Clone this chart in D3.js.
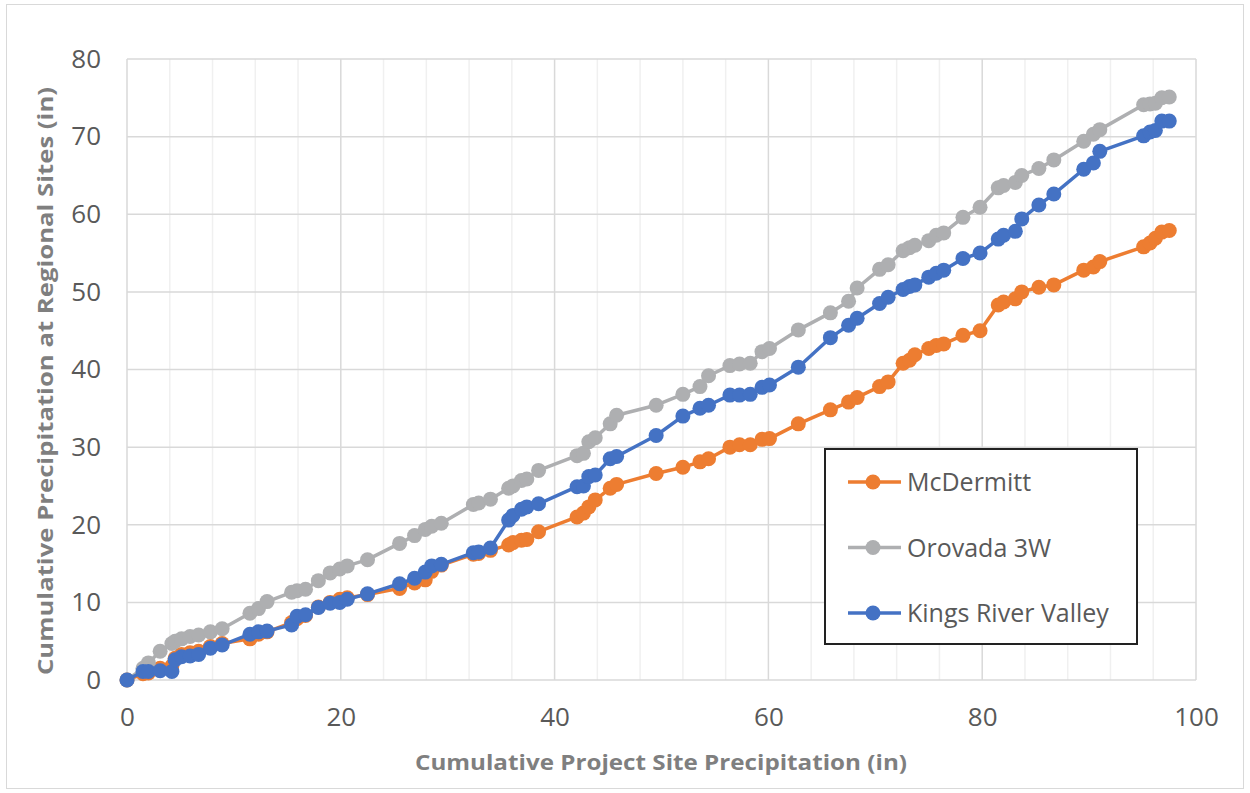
<!DOCTYPE html>
<html>
<head>
<meta charset="utf-8">
<title>Cumulative precipitation</title>
<script src="https://cdnjs.cloudflare.com/ajax/libs/d3/7.8.5/d3.min.js"></script>
<style>
body{
margin:0;
background:#fff
}
svg{
display:block
}
text{
font-family:"Open Sans",sans-serif
}
</style>
</head>
<body>
<svg width="1250" height="793"></svg>

<script>

// cumulative project site precipitation (in), shared by all series
var siteX = [0, 1.5, 2.0, 3.1, 4.2, 4.5, 5.1, 5.9, 6.7, 7.8,
	8.9, 11.5, 12.3, 13.1, 15.4, 15.9, 16.7, 17.9, 19.0, 19.9,
	20.6, 22.5, 25.5, 26.9, 27.9, 28.5, 29.4, 32.4, 32.9, 34.0,
	35.7, 36.1, 36.9, 37.4, 38.5, 42.1, 42.7, 43.2, 43.8, 45.2,
	45.8, 49.5, 52.0, 53.6, 54.4, 56.4, 57.3, 58.3, 59.4, 60.1,
	62.8, 65.8, 67.5, 68.3, 70.4, 71.2, 72.6, 73.2, 73.7, 75.0,
	75.7, 76.4, 78.2, 79.8, 81.5, 82.0, 83.1, 83.7, 85.3, 86.7,
	89.5, 90.4, 91.0, 95.1, 95.7, 96.2, 96.8, 97.5]

var mcdermitt = [0, 0.8, 0.9, 1.5, 1.8, 2.8, 3.3, 3.5, 3.7, 4.3,
	4.7, 5.3, 5.9, 6.2, 7.4, 7.9, 8.3, 9.4, 10.0, 10.4,
	10.6, 11.0, 11.8, 12.5, 12.9, 14.0, 14.8, 16.2, 16.3, 16.7,
	17.4, 17.7, 18.0, 18.1, 19.1, 21.0, 21.5, 22.3, 23.2, 24.7,
	25.2, 26.6, 27.4, 28.1, 28.5, 30.0, 30.3, 30.3, 31.0, 31.1,
	33.0, 34.8, 35.8, 36.4, 37.8, 38.4, 40.8, 41.2, 41.9, 42.7,
	43.1, 43.3, 44.4, 45.0, 48.3, 48.7, 49.1, 50.0, 50.6, 50.9,
	52.8, 53.2, 53.9, 55.8, 56.3, 56.9, 57.7, 57.9]

var orovada = [0, 1.5, 2.2, 3.7, 4.7, 5.0, 5.3, 5.6, 5.8, 6.2,
	6.6, 8.6, 9.2, 10.1, 11.3, 11.5, 11.7, 12.8, 13.8, 14.3,
	14.7, 15.5, 17.6, 18.6, 19.4, 19.8, 20.2, 22.6, 22.8, 23.3,
	24.7, 25.0, 25.7, 25.9, 27.0, 28.9, 29.2, 30.7, 31.2, 33.0,
	34.1, 35.4, 36.8, 37.8, 39.2, 40.5, 40.7, 40.8, 42.3, 42.7,
	45.1, 47.3, 48.8, 50.5, 52.9, 53.5, 55.3, 55.7, 56.0, 56.6,
	57.3, 57.6, 59.6, 60.9, 63.4, 63.7, 64.1, 65.0, 65.9, 67.0,
	69.4, 70.3, 70.9, 74.1, 74.2, 74.3, 75.0, 75.1]

var kingsRiver = [0, 1.1, 1.1, 1.2, 1.1, 2.6, 3.0, 3.1, 3.3, 4.1,
	4.5, 5.9, 6.2, 6.3, 7.1, 8.2, 8.4, 9.35, 9.9, 10.0,
	10.4, 11.1, 12.4, 13.1, 13.9, 14.7, 14.9, 16.4, 16.5, 17.0,
	20.6, 21.2, 22.0, 22.3, 22.7, 24.9, 25.0, 26.2, 26.4, 28.5,
	28.8, 31.5, 34.0, 35.0, 35.4, 36.7, 36.7, 36.8, 37.7, 38.0,
	40.3, 44.1, 45.7, 46.6, 48.5, 49.3, 50.3, 50.7, 50.9, 51.9,
	52.4, 52.8, 54.3, 55.0, 56.8, 57.3, 57.8, 59.4, 61.2, 62.6,
	65.8, 66.6, 68.1, 70.1, 70.6, 70.8, 72.0, 72.0]

var seriesNames = ["McDermitt", "Orovada 3W", "Kings River Valley"]
var seriesColors = ["#ED7D31", "#AEAFB1", "#4472C4"]
var seriesValues = [mcdermitt, orovada, kingsRiver]

var xTicks = [0, 20, 40, 60, 80, 100]
var yTicks = [0, 10, 20, 30, 40, 50, 60, 70, 80]

var svg = d3.select('svg')

// outer chart border
svg.append("rect")
	.attr("x", 6.5).attr("y", 4.5)
	.attr("width", 1237).attr("height", 784)
	.attr("fill", "#fff")
	.attr("stroke", "#d9d9d9")

var x = d3.scaleLinear().domain([0, 100]).range([127, 1196])
var y = d3.scaleLinear().domain([0, 80]).range([680, 59])

// minor vertical grid
svg.append("g")
	.selectAll("line")
	.data(d3.range(4, 101, 4).filter(d => d % 20 != 0))
	.join("line")
	.attr("x1", d => x(d)).attr("x2", d => x(d))
	.attr("y1", y(0)).attr("y2", y(80))
	.attr("stroke", "#f0f0f0")
	.attr("stroke-width", 1.5)

// major grid
svg.append("g")
	.selectAll("line")
	.data(xTicks.slice(1))
	.join("line")
	.attr("x1", d => x(d)).attr("x2", d => x(d))
	.attr("y1", y(0)).attr("y2", y(80))
	.attr("stroke", "#d9d9d9")
	.attr("stroke-width", 1.5)

svg.append("g")
	.selectAll("line")
	.data(yTicks)
	.join("line")
	.attr("x1", x(0)).attr("x2", x(100))
	.attr("y1", d => y(d)).attr("y2", d => y(d))
	.attr("stroke", "#d9d9d9")
	.attr("stroke-width", 1.5)

svg.append("line")
	.attr("x1", x(0)).attr("x2", x(0))
	.attr("y1", y(0)).attr("y2", y(80))
	.attr("stroke", "#d9d9d9")
	.attr("stroke-width", 1.5)

// axes labels
const xAxis = svg.append("g")
	.attr("transform", "translate(0," + y(0) + ")")
	.call(d3.axisBottom(x).tickValues(xTicks).tickSize(0).tickPadding(28))
xAxis.select(".domain").remove()
xAxis.selectAll("text")
	.attr("fill", "#595959")
	.style("font-size", "26px")
	.style("font-family", "'Open Sans',sans-serif")

const yAxis = svg.append("g")
	.attr("transform", "translate(" + 101 + ",0)")
	.call(d3.axisLeft(y).tickValues(yTicks).tickSize(0).tickPadding(0))
yAxis.select(".domain").remove()
yAxis.selectAll("text")
	.attr("fill", "#595959")
	.style("font-size", "26px")
	.style("font-family", "'Open Sans',sans-serif")

svg.append("text")
	.attr("x", 661).attr("y", 770)
	.attr("text-anchor", "middle")
	.attr("textLength", 492).attr("lengthAdjust", "spacingAndGlyphs")
	.attr("fill", "#7f7f7f")
	.style("font-size", "22px").style("font-weight", "bold")
	.text("Cumulative Project Site Precipitation (in)")

svg.append("text")
	.attr("transform", "translate(53,381) rotate(-90)")
	.attr("text-anchor", "middle")
	.attr("textLength", 588).attr("lengthAdjust", "spacingAndGlyphs")
	.attr("fill", "#7f7f7f")
	.style("font-size", "22px").style("font-weight", "bold")
	.text("Cumulative Precipitation at Regional Sites (in)")

// series
var line = d3.line()
	.x((d, i) => x(siteX[i]))
	.y(d => y(d))

seriesValues.forEach(function(vals, k){
	const g = svg.append("g")
	g.append("path")
		.datum(vals)
		.attr("d", line)
		.attr("fill", "none")
		.attr("stroke", seriesColors[k])
		.attr("stroke-width", 3.5)
		.attr("stroke-linejoin", "round")
	g.selectAll("circle")
		.data(vals)
		.join("circle")
		.attr("cx", (d, i) => x(siteX[i]))
		.attr("cy", d => y(d))
		.attr("r", 7.5)
		.attr("fill", seriesColors[k])
})

// legend
const legend = svg.append("g")
legend.append("rect")
	.attr("x", 825).attr("y", 449)
	.attr("width", 312).attr("height", 195)
	.attr("fill", "#fff")
	.attr("stroke", "#222")
	.attr("stroke-width", 2)

const item = legend.selectAll("g")
	.data(seriesNames)
	.join("g")
	.attr("transform", (d, i) => "translate(0," + (482 + i * 65.5) + ")")
item.append("line")
	.attr("x1", 848).attr("x2", 901)
	.attr("stroke", (d, i) => seriesColors[i])
	.attr("stroke-width", 3.5)
item.append("circle")
	.attr("cx", 873).attr("r", 7.5)
	.attr("fill", (d, i) => seriesColors[i])
item.append("text")
	.attr("x", 907).attr("y", 9)
	.attr("fill", "#595959")
	.style("font-size", "25px")
	.text(d => d)

</script>
</body>
</html>
